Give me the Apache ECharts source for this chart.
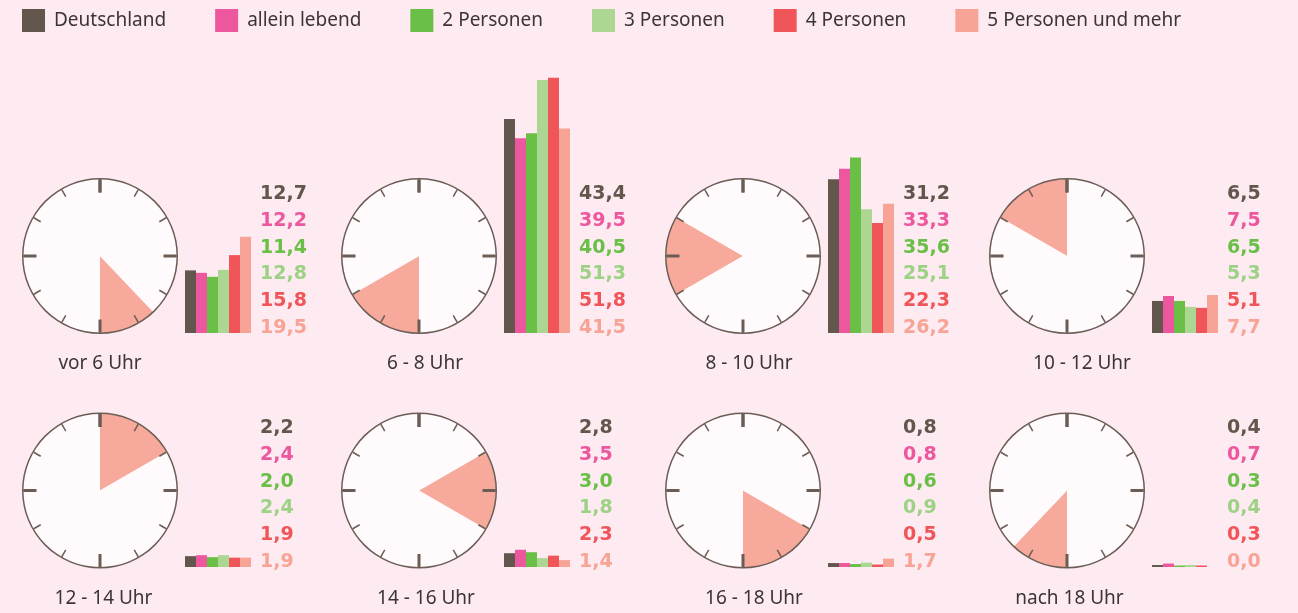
<!DOCTYPE html>
<html>
<head>
<meta charset="utf-8">
<script src="https://cdn.jsdelivr.net/npm/echarts@6.0.0/dist/echarts.min.js"></script>
<style>
	html, body {
		margin: 0;
		padding: 0;
		background: #fdebf1;
	}
	#TagesChart {
		width: 1298px;
		height: 613px;
	}
</style>
</head>
<body>
<div id="TagesChart"></div>
<script>
/*Haushaltsgruppen*/
const groups = ['Deutschland', 'allein lebend', '2 Personen', '3 Personen', '4 Personen', '5 Personen und mehr'];
/*Zeitfenster*/
const slots = ['vor 6 Uhr', '6 - 8 Uhr', '8 - 10 Uhr', '10 - 12 Uhr', '12 - 14 Uhr', '14 - 16 Uhr', '16 - 18 Uhr', 'nach 18 Uhr'];
/*Beginn und Ende des Segments auf dem Zifferblatt (Stunden)*/
const slotFrom = [4.55, 6, 8, 10, 12, 14, 16, 18];
const slotTo = [6, 8, 10, 12, 14, 16, 18, 19.45];
/*Anteile in %*/
const deutschland = [12.7, 43.4, 31.2, 6.5, 2.2, 2.8, 0.8, 0.4];
const alleinLebend = [12.2, 39.5, 33.3, 7.5, 2.4, 3.5, 0.8, 0.7];
const zweiPersonen = [11.4, 40.5, 35.6, 6.5, 2.0, 3.0, 0.6, 0.3];
const dreiPersonen = [12.8, 51.3, 25.1, 5.3, 2.4, 1.8, 0.9, 0.4];
const vierPersonen = [15.8, 51.8, 22.3, 5.1, 1.9, 2.3, 0.5, 0.3];
const fuenfPersonen = [19.5, 41.5, 26.2, 7.7, 1.9, 1.4, 1.7, 0.0];

const values = [deutschland, alleinLebend, zweiPersonen, dreiPersonen, vierPersonen, fuenfPersonen];

/*Layout*/
const panelX = [100, 419, 743, 1067];
const panelY = [256, 490.5];
const labelShift = [0, 6, 6, 15, 3.5, 7, 11, 2.5];
const rowBase = [333, 567];
const rowMax = [55, 10];
const pxPerUnit = 4.93;
const colors = ['#63564d', '#ec579e', '#6abf47', '#acd793', '#f0555a', '#f7a396'];
const textColors = ['#63564d', '#ec579e', '#6abf47', '#9dd286', '#f0555a', '#f7a396'];
const clockColor = '#6b5d55';

const fmt = v => v.toFixed(1).replace('.', ',');

let rich = {};
textColors.forEach((c, k) => {
	rich['c' + k] = {
		color: c,
		fontFamily: 'DejaVu Sans',
		fontWeight: 'bold',
		fontSize: 19,
		lineHeight: 26.7
	};
});

let series = [];
let grids = [];
let xAxes = [];
let yAxes = [];
let titles = [];

slots.forEach((slot, i) => {
	const row = i < 4 ? 0 : 1;
	const cx = panelX[i % 4];
	const cy = panelY[row];
	const span = (slotTo[i] - slotFrom[i]) * 30;

	/*Zifferblatt mit Zeitsegment*/
	series.push({
		type: 'pie',
		silent: true,
		z: 1,
		center: [cx, cy],
		radius: [0, 77],
		startAngle: 90 - (slotFrom[i] % 12) * 30,
		label: { show: false },
		labelLine: { show: false },
		emphasis: { disabled: true },
		itemStyle: { borderWidth: 0 },
		data: [
			{ name: slot, value: span, itemStyle: { color: '#f7a99b' } },
			{ name: 'rest', value: 360 - span, itemStyle: { color: '#fffafc' } }
		]
	});

	/*Uhr: Kreis und Striche*/
	series.push({
		type: 'gauge',
		silent: true,
		z: 3,
		center: [cx, cy],
		radius: 78,
		startAngle: 90,
		endAngle: -270,
		min: 0,
		max: 12,
		splitNumber: 4,
		axisLine: { lineStyle: { width: 1.5, color: [[1, clockColor]] } },
		splitLine: { distance: 0, length: 13, lineStyle: { width: 3, color: clockColor } },
		axisTick: { splitNumber: 3, distance: 0, length: 8, lineStyle: { width: 1.5, color: clockColor } },
		axisLabel: { show: false },
		pointer: { show: false },
		anchor: { show: false },
		progress: { show: false },
		title: { show: false },
		detail: { show: false },
		data: [{ value: 0 }]
	});

	/*Balken*/
	grids.push({
		left: cx + 85,
		top: rowBase[row] - pxPerUnit * rowMax[row],
		width: 66,
		height: pxPerUnit * rowMax[row]
	});
	xAxes.push({ type: 'category', gridIndex: i, data: [slot], show: false });
	yAxes.push({ type: 'value', gridIndex: i, min: 0, max: rowMax[row], show: false });
	groups.forEach((g, k) => {
		series.push({
			type: 'bar',
			name: g,
			silent: true,
			xAxisIndex: i,
			yAxisIndex: i,
			barGap: '0%',
			barCategoryGap: '0%',
			itemStyle: { color: colors[k] },
			data: [values[k][i]]
		});
	});

	/*Werte*/
	titles.push({
		left: cx + 160,
		top: rowBase[row] - 152,
		padding: 0,
		textAlign: 'left',
		textVerticalAlign: 'top',
		text: groups.map((g, k) => '{c' + k + '|' + fmt(values[k][i]) + '}').join('\n'),
		textStyle: { fontFamily: 'DejaVu Sans', fontWeight: 'bold', fontSize: 19, lineHeight: 26.7, rich: rich }
	});

	/*Beschriftung*/
	titles.push({
		left: cx + labelShift[i],
		top: row === 0 ? 363.5 : 599,
		padding: 0,
		textAlign: 'center',
		textVerticalAlign: 'middle',
		text: slot,
		textStyle: { fontFamily: 'Noto Sans', fontWeight: 'normal', fontSize: 19, color: '#3b3535' }
	});
});

let myChart = echarts.init(document.getElementById('TagesChart'));
myChart.setOption({
	animation: false,
	backgroundColor: '#fdebf1',
	color: colors,
	legend: {
		left: 22,
		top: 9,
		padding: 0,
		icon: 'rect',
		itemWidth: 23,
		itemHeight: 23,
		itemGap: 49,
		selectedMode: false,
		data: groups,
		textStyle: {
			fontFamily: 'Noto Sans',
			fontSize: 19,
			color: '#3b3535',
			padding: [4, 0, 0, 4]
		}
	},
	title: titles,
	grid: grids,
	xAxis: xAxes,
	yAxis: yAxes,
	series: series
});
</script>
</body>
</html>
